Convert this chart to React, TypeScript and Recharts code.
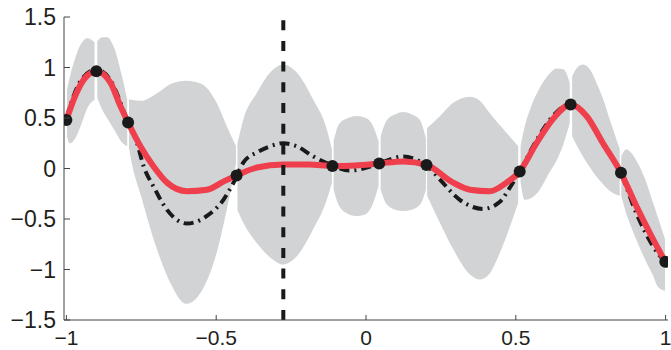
import React from 'react';
import { ComposedChart, Area, Line, Scatter, XAxis, YAxis, ReferenceLine } from 'recharts';

// observed samples
const OBS_X = [-1, -0.9, -0.794, -0.432, -0.112, 0.044, 0.202, 0.513, 0.683, 0.851, 0.999];
const OBS_Y = [0.48, 0.963, 0.455, -0.069, 0.025, 0.05, 0.035, -0.03, 0.634, -0.043, -0.924];

// posterior mean (red)
const MEAN_X = [-1, -0.976, -0.942, -0.9, -0.853, -0.82, -0.794, -0.753, -0.709, -0.664, -0.598, -0.531, -0.476, -0.432, -0.364, -0.276, -0.19, -0.112, -0.035, 0.044, 0.124, 0.202, 0.291, 0.347, 0.413, 0.469, 0.513, 0.569, 0.624, 0.683, 0.736, 0.791, 0.851, 0.902, 0.958, 0.999];
const MEAN_Y = [0.48, 0.68, 0.88, 0.963, 0.85, 0.62, 0.455, 0.22, 0.02, -0.14, -0.225, -0.21, -0.13, -0.069, 0.01, 0.04, 0.04, 0.025, 0.03, 0.05, 0.07, 0.035, -0.14, -0.21, -0.225, -0.14, -0.03, 0.25, 0.49, 0.634, 0.52, 0.25, -0.043, -0.37, -0.7, -0.924];

// true function (dash-dot)
const TRUE_X = [-1, -0.95, -0.9, -0.85, -0.8, -0.764, -0.742, -0.709, -0.664, -0.598, -0.531, -0.476, -0.442, -0.409, -0.364, -0.32, -0.276, -0.231, -0.176, -0.12, -0.053, -0.009, 0.044, 0.124, 0.18, 0.21, 0.247, 0.313, 0.391, 0.447, 0.48, 0.513, 0.569, 0.624, 0.683, 0.736, 0.791, 0.851, 0.902, 0.958, 0.999];
const TRUE_Y = [0.5, 0.88, 0.98, 0.86, 0.5, 0.25, 0.02, -0.18, -0.41, -0.545, -0.47, -0.31, -0.14, 0.06, 0.16, 0.22, 0.25, 0.22, 0.12, 0.04, -0.02, 0, 0.05, 0.12, 0.07, 0.01, -0.11, -0.31, -0.4, -0.33, -0.19, -0.03, 0.28, 0.52, 0.64, 0.52, 0.24, -0.05, -0.44, -0.77, -0.93];

// confidence band, one lobe between each pair of samples
const BAND_X = [
  [-0.998, -0.989, -0.97, -0.95, -0.93, -0.906],
  [-0.897, -0.88, -0.864, -0.84, -0.815, -0.797],
  [-0.791, -0.785, -0.75, -0.7, -0.65, -0.6, -0.55, -0.5, -0.465, -0.434],
  [-0.429, -0.409, -0.364, -0.32, -0.276, -0.231, -0.176, -0.131, -0.114],
  [-0.108, -0.09, -0.06, -0.03, 0, 0.02, 0.042],
  [0.049, 0.07, 0.1, 0.124, 0.15, 0.18, 0.2],
  [0.204, 0.247, 0.291, 0.347, 0.38, 0.41, 0.44, 0.47, 0.508],
  [0.516, 0.53, 0.547, 0.58, 0.61, 0.636, 0.66, 0.68],
  [0.688, 0.705, 0.724, 0.75, 0.769, 0.79, 0.813, 0.847],
  [0.852, 0.869, 0.88, 0.913, 0.936, 0.958, 0.974, 0.998],
];
const BAND_HI = [
  [0.78, 0.9, 1.1, 1.24, 1.29, 1.25],
  [1.26, 1.3, 1.3, 1.19, 0.92, 0.68],
  [0.69, 0.68, 0.67, 0.74, 0.84, 0.87, 0.84, 0.66, 0.42, 0.22],
  [0.25, 0.49, 0.75, 0.95, 1.03, 0.95, 0.68, 0.39, 0.19],
  [0.27, 0.44, 0.5, 0.52, 0.5, 0.44, 0.27],
  [0.32, 0.48, 0.54, 0.56, 0.54, 0.48, 0.3],
  [0.4, 0.52, 0.65, 0.71, 0.67, 0.56, 0.45, 0.35, 0.22],
  [0.22, 0.42, 0.58, 0.8, 0.93, 0.99, 0.98, 0.85],
  [0.91, 1.0, 1.03, 0.97, 0.85, 0.7, 0.49, 0.19],
  [0.12, 0.19, 0.17, 0.02, -0.14, -0.34, -0.48, -0.7],
];
const BAND_LO = [
  [0.32, 0.25, 0.3, 0.44, 0.6, 0.68],
  [0.7, 0.58, 0.5, 0.38, 0.26, 0.22],
  [0.2, 0.1, -0.28, -0.78, -1.15, -1.34, -1.22, -0.85, -0.41, 0.05],
  [-0.41, -0.54, -0.74, -0.88, -0.95, -0.87, -0.6, -0.31, -0.14],
  [-0.21, -0.37, -0.45, -0.47, -0.45, -0.37, -0.17],
  [-0.21, -0.36, -0.41, -0.42, -0.41, -0.36, -0.21],
  [-0.27, -0.54, -0.8, -1.05, -1.1, -1.05, -0.88, -0.66, -0.34],
  [-0.14, -0.31, -0.3, -0.21, -0.05, 0.08, 0.25, 0.45],
  [0.32, 0.22, 0.12, 0, -0.08, -0.15, -0.22, -0.27],
  [-0.27, -0.45, -0.54, -0.78, -0.93, -1.06, -1.17, -1.21],
];

const QUERY_X = -0.276;
const X_TICKS = [-1, -0.5, 0, 0.5, 1];
const Y_TICKS = [-1.5, -1, -0.5, 0, 0.5, 1, 1.5];

const obsData = OBS_X.map((x, i) => ({ x, y: OBS_Y[i] }));
const meanData = MEAN_X.map((x, i) => ({ x, y: MEAN_Y[i] }));
const trueData = TRUE_X.map((x, i) => ({ x, y: TRUE_Y[i] }));
const lobes = BAND_X.map((xs, j) => xs.map((x, i) => ({ x, band: [BAND_LO[j][i], BAND_HI[j][i]] })));

const W = 671;
const H = 350;
const AXIS_Y = 320;
const FONT = '"Liberation Sans", Arial, sans-serif';
const AXIS_COLOR = '#444';

const fmt = (v: number) => String(v).replace('-', '\u2212');

const YTick = (props: any) => {
  const { x, y, payload } = props;
  return (
    <g>
      <line x1={x + 8} x2={x + 14} y1={y} y2={y} stroke={AXIS_COLOR} strokeWidth={1} />
      <text x={x} y={y} dy="0.36em" textAnchor="end" fontSize={23} fontFamily={FONT} fill="#231f20">
        {fmt(payload.value)}
      </text>
    </g>
  );
};

const XTick = (props: any) => {
  const { x, y, payload } = props;
  return (
    <g>
      <line x1={x} x2={x} y1={AXIS_Y} y2={AXIS_Y - 5} stroke={AXIS_COLOR} strokeWidth={1} />
      <text x={x} y={y} dy="0.71em" textAnchor="middle" fontSize={21} fontFamily={FONT} fill="#231f20">
        {fmt(payload.value)}
      </text>
    </g>
  );
};

export default function App() {
  return (
    <div style={{ position: 'absolute', left: 0, top: 0, background: '#fff' }}>
      <ComposedChart width={W} height={H} margin={{ top: 17, right: 3, bottom: 0, left: 0 }}>
        <XAxis
          type="number"
          dataKey="x"
          domain={[-1.008, 1.008]}
          ticks={X_TICKS}
          allowDataOverflow
          height={30}
          tickSize={0}
          tickMargin={10}
          tick={<XTick />}
          tickLine={false}
          axisLine={{ stroke: AXIS_COLOR }}
        />
        <YAxis
          type="number"
          domain={[-1.5, 1.5]}
          ticks={Y_TICKS}
          allowDataOverflow
          width={64}
          tickSize={0}
          tickMargin={8}
          tick={<YTick />}
          tickLine={false}
          axisLine={{ stroke: AXIS_COLOR }}
        />
        {lobes.map((lobe, j) => (
          <Area
            key={`lobe-${j}`}
            data={lobe}
            dataKey="band"
            type="monotone"
            stroke="none"
            fill="#d1d3d4"
            fillOpacity={1}
            activeDot={false}
            isAnimationActive={false}
          />
        ))}
        <Line
          data={trueData}
          dataKey="y"
          type="monotone"
          stroke="#1a1a1a"
          strokeWidth={4}
          strokeDasharray="10 5 2 5"
          dot={false}
          activeDot={false}
          isAnimationActive={false}
        />
        <Line
          data={meanData}
          dataKey="y"
          type="monotone"
          stroke="#ef3e4c"
          strokeWidth={6}
          dot={false}
          activeDot={false}
          isAnimationActive={false}
        />
        <ReferenceLine x={QUERY_X} stroke="#1a1a1a" strokeWidth={4} strokeDasharray="10 10.7" />
        <Scatter
          data={obsData}
          dataKey="y"
          isAnimationActive={false}
          shape={(p: any) => <circle cx={p.cx} cy={p.cy} r={6} fill="#1a1a1a" />}
        />
      </ComposedChart>
    </div>
  );
}
